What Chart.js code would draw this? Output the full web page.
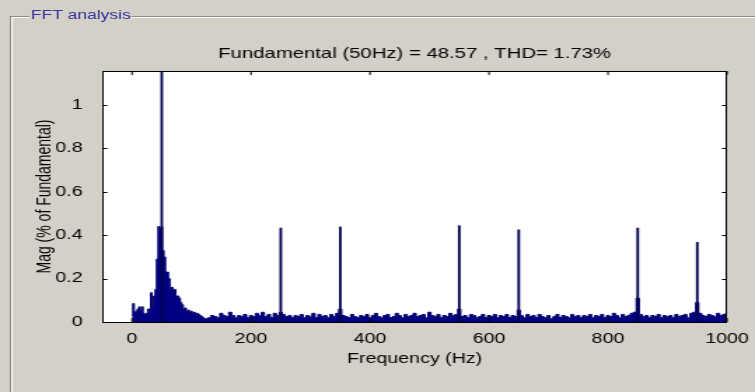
<!DOCTYPE html>
<html><head><meta charset="utf-8">
<script src="https://cdn.jsdelivr.net/npm/chart.js@4/dist/chart.umd.min.js"></script>
<style>
html,body{margin:0;padding:0;background:#d4d0c8;width:755px;height:392px;overflow:hidden;}
#wrap{position:absolute;left:0;top:0;width:539px;height:392px;transform:scaleX(1.40074);transform-origin:0 0;}
#box{position:absolute;left:7px;top:16px;width:600px;height:500px;border-top:1px solid #8c8a86;border-left:1px solid #8c8a86;box-shadow:inset 1px 1px 0 #ffffff;}
#boxlabel{position:absolute;left:21px;top:7px;padding:0 1px;background:#d4d0c8;color:#3a3a9e;font:12.5px "Liberation Sans",Arial,sans-serif;line-height:17px;white-space:nowrap;}
#c{position:absolute;left:0;top:0;width:539px;height:392px;}
</style></head>
<body><div id="wrap"><div id="box"></div><div id="boxlabel">FFT analysis</div><canvas id="c" width="539" height="392"></canvas></div>
<script>
// ---- data ----
const titleText = 'Fundamental (50Hz) = 48.57 , THD= 1.73%';
const xTitle = 'Frequency (Hz)';
const yTitle = 'Mag (% of Fundamental)';
const xTicks = [0, 200, 400, 600, 800, 1000];
const yTicks = [0, 0.2, 0.4, 0.6, 0.8, 1];

// spectrum 0 .. 122.5 Hz, bins of 2.5 Hz
const lowBinHz = 2.5;
const lowMags = [
  0.03, 0.085, 0.045, 0.05, 0.06, 0.07, 0.055, 0.07, 0.04, 0.035,
  0.04, 0.06, 0.05, 0.135, 0.07, 0.12, 0.15, 0.29, 0.44, 0.43,
  0.44, 0.33, 0.30, 0.23, 0.23, 0.20, 0.15, 0.16, 0.15, 0.15,
  0.12, 0.12, 0.11, 0.09, 0.08, 0.06, 0.065, 0.05, 0.055, 0.045,
  0.05, 0.04, 0.045, 0.035, 0.04, 0.035, 0.03, 0.025, 0.02, 0.015
];
// spectrum 125 .. 1000 Hz, bins of 5 Hz
const highStartHz = 125;
const highBinHz = 5;
const highMags = [
  0.015,0.02,0.03,0.025,0.02,0.04,0.03,0.025,0.045,0.03,
  0.02,0.03,0.025,0.035,0.02,0.03,0.025,0.04,0.03,0.045,
  0.025,0.035,0.02,0.04,0.03,0.045,0.035,0.025,0.03,0.02,
  0.03,0.025,0.035,0.02,0.03,0.025,0.04,0.02,0.035,0.025,
  0.03,0.02,0.035,0.025,0.04,0.06,0.03,0.025,0.02,0.035,
  0.025,0.02,0.03,0.025,0.035,0.02,0.03,0.04,0.025,0.02,
  0.03,0.035,0.02,0.025,0.04,0.03,0.02,0.035,0.025,0.03,
  0.04,0.025,0.03,0.035,0.02,0.045,0.03,0.025,0.035,0.02,
  0.03,0.025,0.04,0.03,0.035,0.06,0.025,0.03,0.02,0.035,
  0.03,0.02,0.025,0.035,0.02,0.03,0.025,0.035,0.02,0.03,
  0.025,0.035,0.02,0.03,0.025,0.055,0.03,0.02,0.035,0.025,
  0.03,0.02,0.035,0.025,0.02,0.03,0.015,0.025,0.035,0.02,
  0.03,0.025,0.02,0.035,0.025,0.03,0.02,0.03,0.025,0.035,
  0.02,0.03,0.025,0.035,0.02,0.03,0.025,0.04,0.03,0.02,
  0.035,0.025,0.03,0.04,0.045,0.11,0.035,0.025,0.03,0.02,
  0.03,0.025,0.035,0.02,0.03,0.025,0.03,0.02,0.035,0.025,
  0.03,0.035,0.02,0.04,0.045,0.09,0.04,0.03,0.025,0.035,
  0.03,0.025,0.04,0.03,0.035,0.04
];
// fundamental and harmonic lines
const harmonicFreqs = [50, 250, 350, 550, 650, 850, 950];
const harmonicMags  = [100, 0.433, 0.438, 0.444, 0.425, 0.433, 0.367];

// ---- build datasets ----
const spectrum = [];
lowMags.forEach((m, i) => spectrum.push({x: i * lowBinHz, y: m}));
highMags.forEach((m, i) => spectrum.push({x: highStartHz + i * highBinHz, y: m}));
const harmonics = harmonicFreqs.map((f, i) => ({x: f, y: harmonicMags[i]}));

Chart.defaults.font.family = '"Liberation Sans", Arial, sans-serif';
Chart.defaults.color = '#000';

const frame = {
  id: 'frame',
  beforeDraw(chart) {
    const {ctx, chartArea: a} = chart;
    ctx.save();
    ctx.fillStyle = '#ffffff';
    ctx.fillRect(a.left, a.top, a.right - a.left, a.bottom - a.top);
    ctx.restore();
  },
  afterDatasetsDraw(chart) {
    const {ctx, chartArea: a, scales: {x, y}} = chart;
    ctx.save();
    ctx.strokeStyle = '#000';
    ctx.lineWidth = 1;
    ctx.beginPath();
    x.ticks.forEach(t => {
      const px = x.getPixelForValue(t.value);
      ctx.moveTo(px, a.bottom); ctx.lineTo(px, a.bottom - 4);
      ctx.moveTo(px, a.top); ctx.lineTo(px, a.top + 4);
    });
    y.ticks.forEach(t => {
      const py = Math.round(y.getPixelForValue(t.value)) + 0.5;
      ctx.moveTo(a.left, py); ctx.lineTo(a.left + 3.6, py);
      ctx.moveTo(a.right, py); ctx.lineTo(a.right - 3.6, py);
    });
    ctx.stroke();
    ctx.strokeRect(a.left + 0.5, a.top + 0.5, a.right - a.left - 1, a.bottom - a.top);
    ctx.restore();
  }
};

new Chart(document.getElementById('c'), {
  type: 'line',
  data: {
    datasets: [
      {type: 'bar', data: harmonics, backgroundColor: '#00004c', borderWidth: 0,
       barThickness: 1.2, grouped: false, order: 0},
      {type: 'line', data: spectrum, stepped: 'middle', fill: 'origin',
       backgroundColor: '#000080', borderColor: '#00006c', borderWidth: 1,
       pointRadius: 0, order: 1}
    ]
  },
  options: {
    responsive: false,
    animation: false,
    devicePixelRatio: 1,
    layout: {padding: {left: 0, right: 20, top: 0, bottom: 0}},
    plugins: {
      legend: {display: false},
      tooltip: {enabled: false},
      title: {display: true, text: titleText, fullSize: false, color: '#000',
              font: {size: 14.5, weight: 'normal'}, padding: {top: 45.3, bottom: 8.3}}
    },
    scales: {
      x: {
        type: 'linear', min: -50, max: 1000, offset: false,
        grid: {display: false}, border: {display: false},
        afterBuildTicks: s => { s.ticks = xTicks.map(v => ({value: v})); },
        afterFit: s => { s.height = 70; },
        ticks: {padding: 0.5, color: '#000', font: {size: 14}, maxRotation: 0, autoSkip: false,
                callback: v => String(v)},
        title: {display: true, text: xTitle, color: '#000', font: {size: 14},
                padding: {top: 0, bottom: 24.6}}
      },
      y: {
        type: 'linear', min: 0, max: 1.157,
        grid: {display: false}, border: {display: false},
        afterBuildTicks: s => { s.ticks = yTicks.map(v => ({value: v})); },
        afterFit: s => { s.width = 73; },
        ticks: {padding: 6, color: '#000', font: {size: 14}, autoSkip: false,
                callback: v => String(+Number(v).toFixed(1))},
        title: {display: true, text: yTitle, color: '#000', font: {size: 14},
                padding: {top: 23.5, bottom: 0}}
      }
    }
  },
  plugins: [frame]
});
</script>
</body></html>
